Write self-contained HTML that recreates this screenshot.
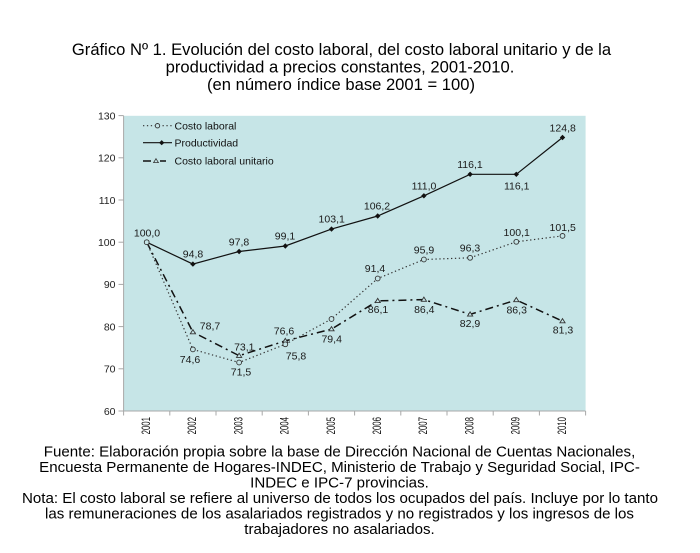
<!DOCTYPE html>
<html>
<head>
<meta charset="utf-8">
<style>
  html,body{margin:0;padding:0;background:#fff;}
  svg{display:block;}
  text{font-family:"Liberation Sans",Arial,sans-serif;}
</style>
</head>
<body>
<svg width="700" height="553" viewBox="0 0 700 553" xmlns="http://www.w3.org/2000/svg">
  <rect x="0" y="0" width="700" height="553" fill="#fff"/>

  <!-- Title -->
  <g font-size="16.6" fill="#000" text-anchor="middle">
    <text x="341.5" y="55">Gráfico Nº 1. Evolución del costo laboral, del costo laboral unitario y de la</text>
    <text x="340" y="72.7">productividad a precios constantes, 2001-2010.</text>
    <text x="341" y="90.2">(en número índice base 2001 = 100)</text>
  </g>

  <!-- Plot area -->
  <rect x="123.6" y="115.8" width="462" height="295.2" fill="#c6e5e7"/>

  <!-- axes -->
  <g stroke="#a8a8a8" stroke-width="1" fill="none">
    <line x1="123.6" y1="115.8" x2="123.6" y2="411"/>
    <line x1="123.6" y1="411" x2="585.6" y2="411"/>
    <line x1="118.5" y1="115.6" x2="123.6" y2="115.6"/>
    <line x1="118.5" y1="157.8" x2="123.6" y2="157.8"/>
    <line x1="118.5" y1="200" x2="123.6" y2="200"/>
    <line x1="118.5" y1="242.2" x2="123.6" y2="242.2"/>
    <line x1="118.5" y1="284.4" x2="123.6" y2="284.4"/>
    <line x1="118.5" y1="326.6" x2="123.6" y2="326.6"/>
    <line x1="118.5" y1="368.8" x2="123.6" y2="368.8"/>
    <line x1="118.5" y1="411" x2="123.6" y2="411"/>
    <line x1="123.6" y1="411" x2="123.6" y2="415.5"/>
    <line x1="169.8" y1="411" x2="169.8" y2="415.5"/>
    <line x1="216" y1="411" x2="216" y2="415.5"/>
    <line x1="262.2" y1="411" x2="262.2" y2="415.5"/>
    <line x1="308.4" y1="411" x2="308.4" y2="415.5"/>
    <line x1="354.6" y1="411" x2="354.6" y2="415.5"/>
    <line x1="400.8" y1="411" x2="400.8" y2="415.5"/>
    <line x1="447" y1="411" x2="447" y2="415.5"/>
    <line x1="493.2" y1="411" x2="493.2" y2="415.5"/>
    <line x1="539.4" y1="411" x2="539.4" y2="415.5"/>
    <line x1="585.6" y1="411" x2="585.6" y2="415.5"/>
  </g>

  <!-- y labels -->
  <g font-size="10.5" fill="#222" text-anchor="end">
    <text x="115.5" y="119.4">130</text>
    <text x="115.5" y="161.6">120</text>
    <text x="115.5" y="203.8">110</text>
    <text x="115.5" y="246">100</text>
    <text x="115.5" y="288.2">90</text>
    <text x="115.5" y="330.4">80</text>
    <text x="115.5" y="372.6">70</text>
    <text x="115.5" y="414.8">60</text>
  </g>

  <!-- x labels (rotated, condensed) -->
  <g font-size="11.5" fill="#111" text-anchor="end">
    <text transform="translate(150,417) rotate(-90) scale(0.68,1)">2001</text>
    <text transform="translate(196.2,417) rotate(-90) scale(0.68,1)">2002</text>
    <text transform="translate(242.4,417) rotate(-90) scale(0.68,1)">2003</text>
    <text transform="translate(288.6,417) rotate(-90) scale(0.68,1)">2004</text>
    <text transform="translate(334.8,417) rotate(-90) scale(0.68,1)">2005</text>
    <text transform="translate(381,417) rotate(-90) scale(0.68,1)">2006</text>
    <text transform="translate(427.2,417) rotate(-90) scale(0.68,1)">2007</text>
    <text transform="translate(473.4,417) rotate(-90) scale(0.68,1)">2008</text>
    <text transform="translate(519.6,417) rotate(-90) scale(0.68,1)">2009</text>
    <text transform="translate(565.8,417) rotate(-90) scale(0.68,1)">2010</text>
  </g>

  <!-- Series: Costo laboral unitario -->
  <polyline fill="none" stroke="#111" stroke-width="1.5" stroke-dasharray="8,4,2,4"
    points="146.7,242.2 192.9,332.1 239.1,355.7 285.3,340.9 331.5,329.1 377.7,300.9 423.9,299.6 470.1,314.4 516.3,300 562.5,321.1"/>

  <!-- Series: Costo laboral -->
  <polyline fill="none" stroke="#333" stroke-width="1.2" stroke-dasharray="1.3,2.6"
    points="146.7,242.2 192.9,349.4 239.1,362.5 285.3,344.3 331.5,319 377.7,278.5 423.9,259.5 470.1,257.8 516.3,241.8 562.5,235.9"/>

  <!-- Series: Productividad -->
  <polyline fill="none" stroke="#111" stroke-width="1.2"
    points="146.7,242.2 192.9,264.1 239.1,251.5 285.3,246 331.5,229.1 377.7,216 423.9,195.8 470.1,174.3 516.3,174.3 562.5,137.5"/>

  <!-- CLU markers -->
  <g fill="#c6e5e7" stroke="#333" stroke-width="0.9">
    <path d="M192.9,329.6 l2.6,4.2 h-5.2z"/>
    <path d="M239.1,353.2 l2.6,4.2 h-5.2z"/>
    <path d="M285.3,338.4 l2.6,4.2 h-5.2z"/>
    <path d="M331.5,326.6 l2.6,4.2 h-5.2z"/>
    <path d="M377.7,298.4 l2.6,4.2 h-5.2z"/>
    <path d="M423.9,297.1 l2.6,4.2 h-5.2z"/>
    <path d="M470.1,311.9 l2.6,4.2 h-5.2z"/>
    <path d="M516.3,297.5 l2.6,4.2 h-5.2z"/>
    <path d="M562.5,318.6 l2.6,4.2 h-5.2z"/>
  </g>

  <!-- CL markers -->
  <g fill="#c6e5e7" stroke="#333" stroke-width="0.9">
    <circle cx="146.7" cy="242.2" r="2.4"/>
    <circle cx="192.9" cy="349.4" r="2.4"/>
    <circle cx="239.1" cy="362.5" r="2.4"/>
    <circle cx="285.3" cy="344.3" r="2.4"/>
    <circle cx="331.5" cy="319" r="2.4"/>
    <circle cx="377.7" cy="278.5" r="2.4"/>
    <circle cx="423.9" cy="259.5" r="2.4"/>
    <circle cx="470.1" cy="257.8" r="2.4"/>
    <circle cx="516.3" cy="241.8" r="2.4"/>
    <circle cx="562.5" cy="235.9" r="2.4"/>
  </g>

  <!-- Prod markers -->
  <g fill="#111">
    <path d="M192.9,261.4 l2.7,2.7 l-2.7,2.7 l-2.7,-2.7z"/>
    <path d="M239.1,248.8 l2.7,2.7 l-2.7,2.7 l-2.7,-2.7z"/>
    <path d="M285.3,243.3 l2.7,2.7 l-2.7,2.7 l-2.7,-2.7z"/>
    <path d="M331.5,226.4 l2.7,2.7 l-2.7,2.7 l-2.7,-2.7z"/>
    <path d="M377.7,213.3 l2.7,2.7 l-2.7,2.7 l-2.7,-2.7z"/>
    <path d="M423.9,193.1 l2.7,2.7 l-2.7,2.7 l-2.7,-2.7z"/>
    <path d="M470.1,171.6 l2.7,2.7 l-2.7,2.7 l-2.7,-2.7z"/>
    <path d="M516.3,171.6 l2.7,2.7 l-2.7,2.7 l-2.7,-2.7z"/>
    <path d="M562.5,134.8 l2.7,2.7 l-2.7,2.7 l-2.7,-2.7z"/>
  </g>

  <!-- Data labels -->
  <g font-size="10.5" fill="#1a1a1a" text-anchor="middle">
    <text x="147" y="236.7">100,0</text>
    <text x="193" y="257.7">94,8</text>
    <text x="239" y="245.4">97,8</text>
    <text x="285" y="239.7">99,1</text>
    <text x="331.7" y="222.4">103,1</text>
    <text x="377" y="209.7">106,2</text>
    <text x="424" y="189.7">111,0</text>
    <text x="470" y="168">116,1</text>
    <text x="516.7" y="189.4">116,1</text>
    <text x="562.7" y="131.4">124,8</text>
    <text x="190" y="363">74,6</text>
    <text x="241" y="375.4">71,5</text>
    <text x="296" y="359.4">75,8</text>
    <text x="375" y="272">91,4</text>
    <text x="424" y="253.7">95,9</text>
    <text x="470" y="251.4">96,3</text>
    <text x="516.7" y="236">100,1</text>
    <text x="562.7" y="231">101,5</text>
    <text x="210" y="329.7">78,7</text>
    <text x="244.3" y="350.4">73,1</text>
    <text x="284" y="334.7">76,6</text>
    <text x="331.7" y="342.7">79,4</text>
    <text x="378" y="313">86,1</text>
    <text x="424.3" y="313">86,4</text>
    <text x="470" y="327">82,9</text>
    <text x="516.7" y="313.7">86,3</text>
    <text x="563" y="333.7">81,3</text>
  </g>

  <!-- Legend -->
  <g>
    <line x1="143" y1="125.7" x2="173" y2="125.7" stroke="#333" stroke-width="1.2" stroke-dasharray="1.3,2.6"/>
    <circle cx="157.5" cy="125.7" r="2.2" fill="#c6e5e7" stroke="#333" stroke-width="0.9"/>
    <line x1="143" y1="142.7" x2="172" y2="142.7" stroke="#111" stroke-width="1.2"/>
    <path d="M161.7,140.1 l2.6,2.6 l-2.6,2.6 l-2.6,-2.6z" fill="#111"/>
    <line x1="143" y1="161" x2="151" y2="161" stroke="#111" stroke-width="1.5"/>
    <line x1="160" y1="161" x2="166" y2="161" stroke="#111" stroke-width="1.5"/>
    <path d="M156,158.7 l2.4,3.9 h-4.8z" fill="#c6e5e7" stroke="#333" stroke-width="0.8"/>
    <g font-size="10.5" fill="#111">
      <text x="174.5" y="129.4">Costo laboral</text>
      <text x="174.5" y="146.4">Productividad</text>
      <text x="174.5" y="164.7">Costo laboral unitario</text>
    </g>
  </g>

  <!-- Footer -->
  <g font-size="15.1" fill="#000" text-anchor="middle">
    <text x="339.5" y="456.7">Fuente: Elaboración propia sobre la base de Dirección Nacional de Cuentas Nacionales,</text>
    <text x="339.5" y="472.2">Encuesta Permanente de Hogares-INDEC, Ministerio de Trabajo y Seguridad Social, IPC-</text>
    <text x="339.5" y="487.7">INDEC e IPC-7 provincias.</text>
    <text x="340" y="503.2">Nota: El costo laboral se refiere al universo de todos los ocupados del país. Incluye por lo tanto</text>
    <text x="339.5" y="518.7">las remuneraciones de los asalariados registrados y no registrados y los ingresos de los</text>
    <text x="339.5" y="534.2">trabajadores no asalariados.</text>
  </g>
</svg>
</body>
</html>
